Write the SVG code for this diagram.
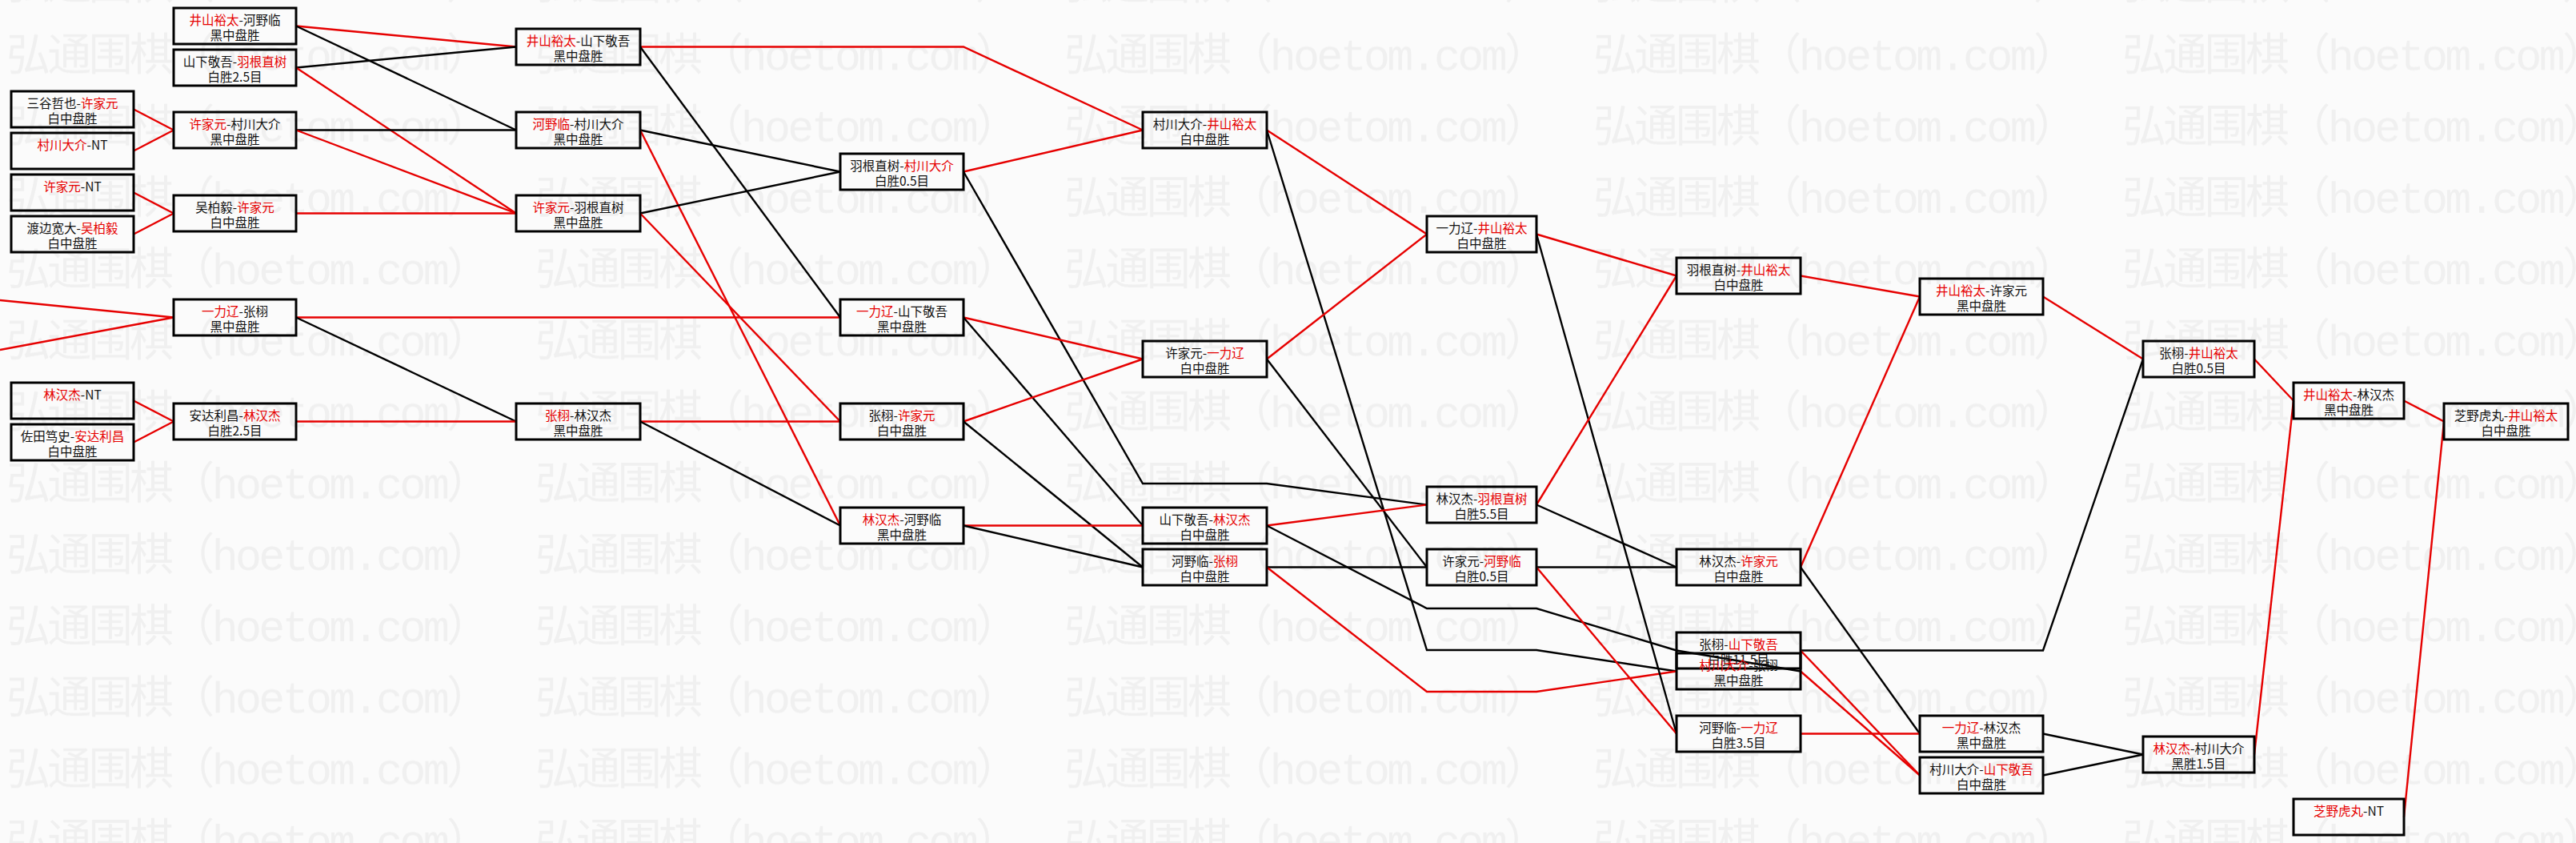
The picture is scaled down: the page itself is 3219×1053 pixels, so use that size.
<svg xmlns="http://www.w3.org/2000/svg" width="3219" height="1053" viewBox="0 0 3219 1053">
<style>
.bg{fill:#fbfbfb}
.wm{font-family:"Liberation Mono","Noto Sans CJK SC",monospace;font-size:55px;fill:#f0f0f0}
.box{fill:none;stroke:#000;stroke-width:3}
.t{font-family:"Noto Sans CJK SC","Noto Sans",sans-serif;font-size:15.5px;fill:#111;text-anchor:middle}
.rd{fill:#e60000}
.r{fill:none;stroke:#e60000;stroke-width:2.4}
.k{fill:none;stroke:#000;stroke-width:2.4}
</style>
<defs>
<pattern id="wmp" patternUnits="userSpaceOnUse" x="8" y="20" width="661" height="89.2">
<text class="wm" x="0" y="67" textLength="605" lengthAdjust="spacing">弘通围棋（hoetom.com）</text>
</pattern>
</defs>
<rect class="bg" x="0" y="0" width="3219" height="1053"/>
<rect x="0" y="0" width="3219" height="1053" fill="url(#wmp)"/>
<g id="connectors">
<line class="r" x1="167" y1="136.5" x2="217" y2="162.5"/>
<line class="r" x1="167" y1="188.5" x2="217" y2="162.5"/>
<line class="r" x1="167" y1="240.5" x2="217" y2="266.5"/>
<line class="r" x1="167" y1="292.5" x2="217" y2="266.5"/>
<line class="r" x1="167" y1="500.5" x2="217" y2="526.5"/>
<line class="r" x1="167" y1="552.5" x2="217" y2="526.5"/>
<line class="r" x1="0" y1="375" x2="217" y2="396.5"/>
<line class="r" x1="0" y1="437" x2="217" y2="396.5"/>
<line class="r" x1="370" y1="32.5" x2="645" y2="58.5"/>
<line class="k" x1="370" y1="32.5" x2="645" y2="162.5"/>
<line class="k" x1="370" y1="84.5" x2="645" y2="58.5"/>
<line class="r" x1="370" y1="84.5" x2="645" y2="266.5"/>
<line class="k" x1="370" y1="162.5" x2="645" y2="162.5"/>
<line class="r" x1="370" y1="162.5" x2="645" y2="266.5"/>
<line class="r" x1="370" y1="266.5" x2="645" y2="266.5"/>
<line class="r" x1="370" y1="396.5" x2="1050" y2="396.5"/>
<line class="k" x1="370" y1="396.5" x2="645" y2="526.5"/>
<line class="r" x1="370" y1="526.5" x2="645" y2="526.5"/>
<polyline class="r" points="800,58.5 1204,58.5 1428,162.5"/>
<line class="k" x1="800" y1="58.5" x2="1050" y2="396.5"/>
<line class="k" x1="800" y1="162.5" x2="1050" y2="214.5"/>
<line class="r" x1="800" y1="162.5" x2="1050" y2="656.5"/>
<line class="k" x1="800" y1="266.5" x2="1050" y2="214.5"/>
<line class="r" x1="800" y1="266.5" x2="1050" y2="526.5"/>
<line class="r" x1="800" y1="526.5" x2="1050" y2="526.5"/>
<line class="k" x1="800" y1="526.5" x2="1050" y2="656.5"/>
<line class="r" x1="1204" y1="214.5" x2="1428" y2="162.5"/>
<polyline class="k" points="1204,214.5 1428,604 1583,604 1783,630.5"/>
<line class="r" x1="1204" y1="396.5" x2="1428" y2="448.5"/>
<line class="k" x1="1204" y1="396.5" x2="1428" y2="656.5"/>
<line class="r" x1="1204" y1="526.5" x2="1428" y2="448.5"/>
<line class="k" x1="1204" y1="526.5" x2="1428" y2="708.5"/>
<line class="r" x1="1204" y1="656.5" x2="1428" y2="656.5"/>
<line class="k" x1="1204" y1="656.5" x2="1428" y2="708.5"/>
<line class="r" x1="1583" y1="162.5" x2="1783" y2="292.5"/>
<polyline class="k" points="1583,162.5 1783,812 1920,812 2095,838.5"/>
<line class="r" x1="1583" y1="448.5" x2="1783" y2="292.5"/>
<line class="k" x1="1583" y1="448.5" x2="1783" y2="708.5"/>
<line class="r" x1="1583" y1="656.5" x2="1783" y2="630.5"/>
<polyline class="k" points="1583,656.5 1783,760 1920,760 2095,812.5"/>
<line class="k" x1="1583" y1="708.5" x2="1783" y2="708.5"/>
<polyline class="r" points="1583,708.5 1783,864 1920,864 2095,838.5"/>
<line class="r" x1="1920" y1="292.5" x2="2095" y2="344.5"/>
<line class="k" x1="1920" y1="292.5" x2="2095" y2="916.5"/>
<line class="r" x1="1920" y1="630.5" x2="2095" y2="344.5"/>
<line class="k" x1="1920" y1="630.5" x2="2095" y2="708.5"/>
<line class="k" x1="1920" y1="708.5" x2="2095" y2="708.5"/>
<line class="r" x1="1920" y1="708.5" x2="2095" y2="916.5"/>
<line class="k" x1="2250" y1="838.5" x2="2095" y2="812.5"/>
<line class="r" x1="2250" y1="344.5" x2="2399" y2="370.5"/>
<line class="r" x1="2250" y1="708.5" x2="2399" y2="370.5"/>
<line class="k" x1="2250" y1="708.5" x2="2399" y2="916.5"/>
<polyline class="k" points="2250,812.5 2553,812.5 2678,448.5"/>
<line class="r" x1="2250" y1="812.5" x2="2399" y2="968.5"/>
<line class="r" x1="2250" y1="838.5" x2="2399" y2="968.5"/>
<line class="r" x1="2250" y1="916.5" x2="2399" y2="916.5"/>
<line class="r" x1="2553" y1="370.5" x2="2678" y2="448.5"/>
<line class="k" x1="2553" y1="916.5" x2="2678" y2="942.5"/>
<line class="k" x1="2553" y1="968.5" x2="2678" y2="942.5"/>
<line class="r" x1="2817" y1="448.5" x2="2866" y2="500.5"/>
<line class="r" x1="2817" y1="942.5" x2="2866" y2="500.5"/>
<line class="r" x1="3004" y1="500.5" x2="3054" y2="526.5"/>
<line class="r" x1="3004" y1="1020.5" x2="3054" y2="526.5"/>
</g>
<g id="n-A1"><rect class="box" x="14" y="114" width="153" height="45"/><text class="t" x="90.5" y="135">三谷哲也-<tspan class="rd">许家元</tspan></text><text class="t" x="90.5" y="154">白中盘胜</text></g>
<g id="n-A2"><rect class="box" x="14" y="166" width="153" height="45"/><text class="t" x="90.5" y="187"><tspan class="rd">村川大介</tspan>-NT</text></g>
<g id="n-A3"><rect class="box" x="14" y="218" width="153" height="45"/><text class="t" x="90.5" y="239"><tspan class="rd">许家元</tspan>-NT</text></g>
<g id="n-A4"><rect class="box" x="14" y="270" width="153" height="45"/><text class="t" x="90.5" y="291">渡边宽大-<tspan class="rd">吴柏毅</tspan></text><text class="t" x="90.5" y="310">白中盘胜</text></g>
<g id="n-A5"><rect class="box" x="14" y="478" width="153" height="45"/><text class="t" x="90.5" y="499"><tspan class="rd">林汉杰</tspan>-NT</text></g>
<g id="n-A6"><rect class="box" x="14" y="530" width="153" height="45"/><text class="t" x="90.5" y="551">佐田笃史-<tspan class="rd">安达利昌</tspan></text><text class="t" x="90.5" y="570">白中盘胜</text></g>
<g id="n-B1"><rect class="box" x="217" y="10" width="153" height="45"/><text class="t" x="293.5" y="31"><tspan class="rd">井山裕太</tspan>-河野临</text><text class="t" x="293.5" y="50">黑中盘胜</text></g>
<g id="n-B2"><rect class="box" x="217" y="62" width="153" height="45"/><text class="t" x="293.5" y="83">山下敬吾-<tspan class="rd">羽根直树</tspan></text><text class="t" x="293.5" y="102">白胜2.5目</text></g>
<g id="n-B3"><rect class="box" x="217" y="140" width="153" height="45"/><text class="t" x="293.5" y="161"><tspan class="rd">许家元</tspan>-村川大介</text><text class="t" x="293.5" y="180">黑中盘胜</text></g>
<g id="n-B4"><rect class="box" x="217" y="244" width="153" height="45"/><text class="t" x="293.5" y="265">吴柏毅-<tspan class="rd">许家元</tspan></text><text class="t" x="293.5" y="284">白中盘胜</text></g>
<g id="n-B5"><rect class="box" x="217" y="374" width="153" height="45"/><text class="t" x="293.5" y="395"><tspan class="rd">一力辽</tspan>-张栩</text><text class="t" x="293.5" y="414">黑中盘胜</text></g>
<g id="n-B6"><rect class="box" x="217" y="504" width="153" height="45"/><text class="t" x="293.5" y="525">安达利昌-<tspan class="rd">林汉杰</tspan></text><text class="t" x="293.5" y="544">白胜2.5目</text></g>
<g id="n-C1"><rect class="box" x="645" y="36" width="155" height="45"/><text class="t" x="722.5" y="57"><tspan class="rd">井山裕太</tspan>-山下敬吾</text><text class="t" x="722.5" y="76">黑中盘胜</text></g>
<g id="n-C2"><rect class="box" x="645" y="140" width="155" height="45"/><text class="t" x="722.5" y="161"><tspan class="rd">河野临</tspan>-村川大介</text><text class="t" x="722.5" y="180">黑中盘胜</text></g>
<g id="n-C3"><rect class="box" x="645" y="244" width="155" height="45"/><text class="t" x="722.5" y="265"><tspan class="rd">许家元</tspan>-羽根直树</text><text class="t" x="722.5" y="284">黑中盘胜</text></g>
<g id="n-C4"><rect class="box" x="645" y="504" width="155" height="45"/><text class="t" x="722.5" y="525"><tspan class="rd">张栩</tspan>-林汉杰</text><text class="t" x="722.5" y="544">黑中盘胜</text></g>
<g id="n-D1"><rect class="box" x="1050" y="192" width="154" height="45"/><text class="t" x="1127" y="213">羽根直树-<tspan class="rd">村川大介</tspan></text><text class="t" x="1127" y="232">白胜0.5目</text></g>
<g id="n-D2"><rect class="box" x="1050" y="374" width="154" height="45"/><text class="t" x="1127" y="395"><tspan class="rd">一力辽</tspan>-山下敬吾</text><text class="t" x="1127" y="414">黑中盘胜</text></g>
<g id="n-D3"><rect class="box" x="1050" y="504" width="154" height="45"/><text class="t" x="1127" y="525">张栩-<tspan class="rd">许家元</tspan></text><text class="t" x="1127" y="544">白中盘胜</text></g>
<g id="n-D4"><rect class="box" x="1050" y="634" width="154" height="45"/><text class="t" x="1127" y="655"><tspan class="rd">林汉杰</tspan>-河野临</text><text class="t" x="1127" y="674">黑中盘胜</text></g>
<g id="n-E1"><rect class="box" x="1428" y="140" width="155" height="45"/><text class="t" x="1505.5" y="161">村川大介-<tspan class="rd">井山裕太</tspan></text><text class="t" x="1505.5" y="180">白中盘胜</text></g>
<g id="n-E2"><rect class="box" x="1428" y="426" width="155" height="45"/><text class="t" x="1505.5" y="447">许家元-<tspan class="rd">一力辽</tspan></text><text class="t" x="1505.5" y="466">白中盘胜</text></g>
<g id="n-E3"><rect class="box" x="1428" y="634" width="155" height="45"/><text class="t" x="1505.5" y="655">山下敬吾-<tspan class="rd">林汉杰</tspan></text><text class="t" x="1505.5" y="674">白中盘胜</text></g>
<g id="n-E4"><rect class="box" x="1428" y="686" width="155" height="45"/><text class="t" x="1505.5" y="707">河野临-<tspan class="rd">张栩</tspan></text><text class="t" x="1505.5" y="726">白中盘胜</text></g>
<g id="n-F1"><rect class="box" x="1783" y="270" width="137" height="45"/><text class="t" x="1851.5" y="291">一力辽-<tspan class="rd">井山裕太</tspan></text><text class="t" x="1851.5" y="310">白中盘胜</text></g>
<g id="n-F2"><rect class="box" x="1783" y="608" width="137" height="45"/><text class="t" x="1851.5" y="629">林汉杰-<tspan class="rd">羽根直树</tspan></text><text class="t" x="1851.5" y="648">白胜5.5目</text></g>
<g id="n-F3"><rect class="box" x="1783" y="686" width="137" height="45"/><text class="t" x="1851.5" y="707">许家元-<tspan class="rd">河野临</tspan></text><text class="t" x="1851.5" y="726">白胜0.5目</text></g>
<g id="n-G1"><rect class="box" x="2095" y="322" width="155" height="45"/><text class="t" x="2172.5" y="343">羽根直树-<tspan class="rd">井山裕太</tspan></text><text class="t" x="2172.5" y="362">白中盘胜</text></g>
<g id="n-G2"><rect class="box" x="2095" y="686" width="155" height="45"/><text class="t" x="2172.5" y="707">林汉杰-<tspan class="rd">许家元</tspan></text><text class="t" x="2172.5" y="726">白中盘胜</text></g>
<g id="n-G3"><rect class="box" x="2095" y="790" width="155" height="45"/><text class="t" x="2172.5" y="811">张栩-<tspan class="rd">山下敬吾</tspan></text><text class="t" x="2172.5" y="830">白胜11.5目</text></g>
<g id="n-G4"><rect class="box" x="2095" y="816" width="155" height="45"/><text class="t" x="2172.5" y="837"><tspan class="rd">村川大介</tspan>-张栩</text><text class="t" x="2172.5" y="856">黑中盘胜</text></g>
<g id="n-G5"><rect class="box" x="2095" y="894" width="155" height="45"/><text class="t" x="2172.5" y="915">河野临-<tspan class="rd">一力辽</tspan></text><text class="t" x="2172.5" y="934">白胜3.5目</text></g>
<g id="n-H1"><rect class="box" x="2399" y="348" width="154" height="45"/><text class="t" x="2476" y="369"><tspan class="rd">井山裕太</tspan>-许家元</text><text class="t" x="2476" y="388">黑中盘胜</text></g>
<g id="n-H2"><rect class="box" x="2399" y="894" width="154" height="45"/><text class="t" x="2476" y="915"><tspan class="rd">一力辽</tspan>-林汉杰</text><text class="t" x="2476" y="934">黑中盘胜</text></g>
<g id="n-H3"><rect class="box" x="2399" y="946" width="154" height="45"/><text class="t" x="2476" y="967">村川大介-<tspan class="rd">山下敬吾</tspan></text><text class="t" x="2476" y="986">白中盘胜</text></g>
<g id="n-I1"><rect class="box" x="2678" y="426" width="139" height="45"/><text class="t" x="2747.5" y="447">张栩-<tspan class="rd">井山裕太</tspan></text><text class="t" x="2747.5" y="466">白胜0.5目</text></g>
<g id="n-I2"><rect class="box" x="2678" y="920" width="139" height="45"/><text class="t" x="2747.5" y="941"><tspan class="rd">林汉杰</tspan>-村川大介</text><text class="t" x="2747.5" y="960">黑胜1.5目</text></g>
<g id="n-J1"><rect class="box" x="2866" y="478" width="138" height="45"/><text class="t" x="2935" y="499"><tspan class="rd">井山裕太</tspan>-林汉杰</text><text class="t" x="2935" y="518">黑中盘胜</text></g>
<g id="n-J2"><rect class="box" x="2866" y="998" width="138" height="45"/><text class="t" x="2935" y="1019"><tspan class="rd">芝野虎丸</tspan>-NT</text></g>
<g id="n-K1"><rect class="box" x="3054" y="504" width="155" height="45"/><text class="t" x="3131.5" y="525">芝野虎丸-<tspan class="rd">井山裕太</tspan></text><text class="t" x="3131.5" y="544">白中盘胜</text></g>
</svg>
